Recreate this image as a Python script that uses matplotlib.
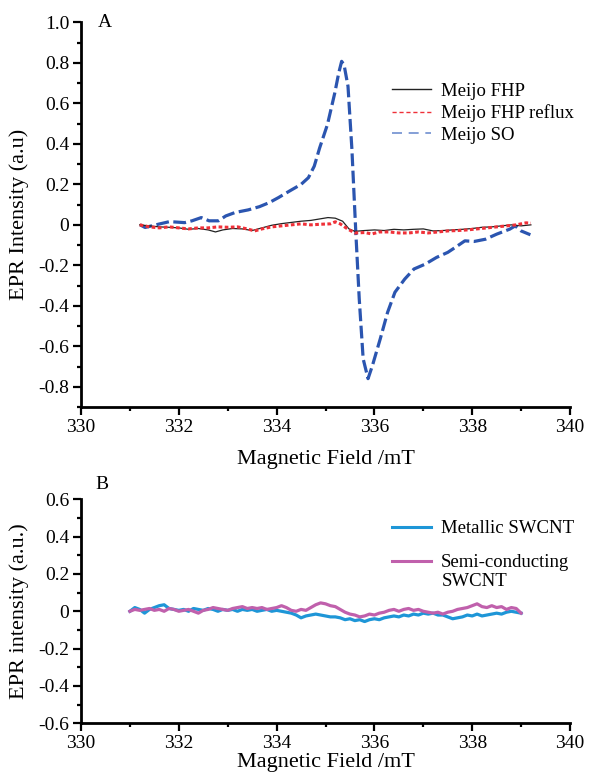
import matplotlib
matplotlib.use("Agg")
import matplotlib.pyplot as plt
from matplotlib.lines import Line2D
from matplotlib.ticker import MultipleLocator, FuncFormatter

plt.rcParams["font.family"] = ["Liberation Serif", "DejaVu Serif"]

# ---- panel A data ----
so_x = [331.21, 331.31, 331.58, 331.81, 332.12, 332.27, 332.46, 332.62, 332.81, 332.96,
        333.15, 333.42, 333.65, 333.85, 334.04, 334.27, 334.50, 334.65, 334.77, 334.88,
        335.04, 335.19, 335.27, 335.33, 335.38, 335.46, 335.54, 335.62, 335.69, 335.77,
        335.87, 335.96, 336.12, 336.27, 336.42, 336.62, 336.81, 337.04, 337.27, 337.50,
        337.65, 337.85, 338.04, 338.27, 338.50, 338.77, 338.88, 339.00, 339.19]
so_y = [0.000, -0.013, 0.003, 0.016, 0.011, 0.020, 0.036, 0.020, 0.020, 0.044,
        0.061, 0.074, 0.090, 0.110, 0.135, 0.168, 0.200, 0.233, 0.290, 0.380,
        0.496, 0.652, 0.750, 0.808, 0.790, 0.685, 0.373, -0.038, -0.366, -0.662,
        -0.760, -0.695, -0.563, -0.432, -0.333, -0.268, -0.218, -0.194, -0.161, -0.136,
        -0.112, -0.079, -0.082, -0.071, -0.046, -0.021, -0.005, -0.030, -0.049]

fhp_x = [331.2, 331.4, 331.6, 331.8, 332.0, 332.2, 332.4, 332.6, 332.75, 332.9,
         333.1, 333.3, 333.5, 333.7, 333.9, 334.1, 334.3, 334.5, 334.7, 334.9,
         335.05, 335.2, 335.35, 335.48, 335.6, 335.8, 336.0, 336.2, 336.4, 336.6,
         336.8, 337.0, 337.2, 337.4, 337.6, 337.8, 338.0, 338.2, 338.4, 338.6,
         338.8, 339.0, 339.2]
fhp_y = [0.000, -0.005, -0.010, -0.012, -0.015, -0.022, -0.018, -0.025, -0.035, -0.025,
         -0.018, -0.020, -0.028, -0.015, -0.002, 0.006, 0.012, 0.018, 0.022, 0.030,
         0.036, 0.033, 0.018, -0.020, -0.032, -0.028, -0.025, -0.028, -0.022, -0.025,
         -0.022, -0.020, -0.030, -0.028, -0.025, -0.022, -0.018, -0.012, -0.010, -0.005,
         0.000, -0.005, 0.000]

reflux_x = [331.2, 331.4, 331.6, 331.8, 332.0, 332.2, 332.4, 332.6, 332.8, 333.0,
            333.2, 333.4, 333.55, 333.7, 333.9, 334.1, 334.3, 334.5, 334.7, 334.9,
            335.1, 335.2, 335.3, 335.45, 335.6, 335.8, 335.95, 336.1, 336.3, 336.5,
            336.7, 336.9, 337.1, 337.3, 337.5, 337.7, 337.9, 338.1, 338.3, 338.5,
            338.7, 338.9, 339.1, 339.2]
reflux_y = [0.000, -0.010, -0.015, -0.010, -0.015, -0.020, -0.015, -0.015, -0.010, -0.012,
            -0.010, -0.020, -0.030, -0.020, -0.010, -0.005, 0.000, 0.005, 0.000, 0.003,
            0.005, 0.015, 0.005, -0.020, -0.040, -0.038, -0.045, -0.035, -0.035, -0.040,
            -0.040, -0.035, -0.040, -0.035, -0.030, -0.028, -0.025, -0.020, -0.015, -0.010,
            -0.005, 0.000, 0.010, 0.008]

# ---- panel B data ----
b_x = [331.0 + 0.1 * i for i in range(81)]
metallic_y = [0.000, 0.020, 0.010, -0.010, 0.010, 0.020, 0.030, 0.035, 0.015, 0.010,
              0.005, 0.010, 0.000, 0.015, 0.010, 0.005, 0.015, 0.010, 0.000, 0.010,
              0.005, 0.010, 0.000, 0.010, 0.005, 0.010, 0.000, 0.005, 0.010, 0.000,
              0.005, 0.000, -0.005, -0.010, -0.020, -0.035, -0.025, -0.020, -0.015, -0.020,
              -0.025, -0.030, -0.030, -0.035, -0.045, -0.040, -0.050, -0.045, -0.055, -0.045,
              -0.040, -0.045, -0.035, -0.030, -0.025, -0.030, -0.020, -0.025, -0.015, -0.020,
              -0.010, -0.015, -0.010, -0.020, -0.020, -0.030, -0.040, -0.035, -0.030, -0.020,
              -0.025, -0.015, -0.025, -0.020, -0.015, -0.010, -0.015, -0.005, 0.000, -0.005,
              -0.010]
semi_y = [0.000, 0.010, 0.005, 0.010, 0.015, 0.005, 0.010, 0.000, 0.015, 0.010,
          0.000, 0.005, 0.010, 0.000, -0.010, 0.005, 0.010, 0.020, 0.015, 0.010,
          0.005, 0.015, 0.020, 0.025, 0.015, 0.020, 0.015, 0.020, 0.010, 0.015,
          0.020, 0.030, 0.020, 0.005, 0.000, 0.010, 0.005, 0.020, 0.035, 0.045,
          0.040, 0.030, 0.025, 0.010, -0.005, -0.015, -0.020, -0.030, -0.025, -0.015,
          -0.020, -0.010, -0.005, 0.005, 0.010, 0.000, 0.010, 0.015, 0.005, 0.010,
          0.000, -0.005, -0.010, -0.005, -0.015, -0.005, 0.000, 0.010, 0.015, 0.020,
          0.030, 0.040, 0.025, 0.020, 0.030, 0.020, 0.025, 0.010, 0.020, 0.015,
          -0.010]

BLUE_SO = "#2b55b0"
RED = "#ef3038"
METAL = "#1e96d7"
SEMI = "#c060ac"


def tick_fmt(v, pos):
    if abs(v) < 1e-9:
        return "0"
    return f"{v:.1f}"


def style_axes(ax, ylo, yhi):
    for s in ("top", "right"):
        ax.spines[s].set_visible(False)
    for s in ("left", "bottom"):
        ax.spines[s].set_linewidth(2.0)
    ax.set_xlim(330, 340)
    ax.set_ylim(ylo, yhi)
    ax.xaxis.set_major_locator(MultipleLocator(2))
    ax.xaxis.set_minor_locator(MultipleLocator(1))
    ax.yaxis.set_major_locator(MultipleLocator(0.2))
    ax.yaxis.set_minor_locator(MultipleLocator(0.1))
    ax.yaxis.set_major_formatter(FuncFormatter(tick_fmt))
    ax.tick_params(which="major", direction="out", length=5.5, width=1.6,
                   labelsize=14, pad=3)
    ax.tick_params(which="minor", direction="out", length=3, width=1.6)


fig = plt.figure(figsize=(5.9, 7.73), dpi=100)

# panel A
ax1 = fig.add_axes([0.1373, 0.4735, 0.8288, 0.4974])
ax1.plot(so_x, so_y, color=BLUE_SO, lw=2.3, dashes=(4, 1.4))
ax1.plot(fhp_x, fhp_y, color="#222222", lw=0.9)
ax1.plot(reflux_x, reflux_y, color=RED, lw=2.2, dashes=(1.2, 0.8))
style_axes(ax1, -0.9, 1.0)
ax1.set_ylabel("EPR Intensity (a.u)", fontsize=16)
ax1.set_xlabel("Magnetic Field /mT", fontsize=16)
ax1.yaxis.set_label_coords(-0.106, 0.5)
ax1.xaxis.set_label_coords(0.5, -0.113)
ax1.text(0.035, 1.0, "A", transform=ax1.transAxes, fontsize=14, va="center", ha="left")

handles_a = [Line2D([], [], color="#222222", lw=1.0),
             Line2D([], [], color=RED, lw=1.0, dashes=(3, 2)),
             Line2D([], [], color="#6f8fd0", lw=1.2, dashes=(6, 4))]
ax1.legend(handles_a, ["Meijo FHP", "Meijo FHP reflux", "Meijo SO"],
           loc="upper left", bbox_to_anchor=(0.636, 0.844), frameon=False,
           fontsize=13.5, handlelength=2.1, handletextpad=0.5,
           labelspacing=0.25, borderpad=0, borderaxespad=0)

# panel B
ax2 = fig.add_axes([0.1373, 0.0643, 0.8288, 0.2898])
ax2.plot(b_x, metallic_y, color=METAL, lw=2.3)
ax2.plot(b_x, semi_y, color=SEMI, lw=2.3)
style_axes(ax2, -0.6, 0.6)
ax2.set_ylabel("EPR intensity (a.u.)", fontsize=16)
ax2.set_xlabel("Magnetic Field /mT", fontsize=16)
ax2.yaxis.set_label_coords(-0.106, 0.5)
ax2.xaxis.set_label_coords(0.5, -0.133)
ax2.text(0.03, 1.065, "B", transform=ax2.transAxes, fontsize=14, va="center", ha="left")

handles_b = [Line2D([], [], color=METAL, lw=2.2),
             Line2D([], [], color=SEMI, lw=2.2)]
ax2.legend(handles_b, ["Metallic SWCNT", "Semi-conducting"],
           loc="upper left", bbox_to_anchor=(0.636, 0.906), frameon=False,
           fontsize=13.5, handlelength=2.1, handletextpad=0.5,
           labelspacing=0.9, borderpad=0, borderaxespad=0)
ax2.text(0.738, 0.635, "SWCNT", transform=ax2.transAxes, fontsize=13.5,
         va="center", ha="left")

fig.savefig("out.png", dpi=100)
